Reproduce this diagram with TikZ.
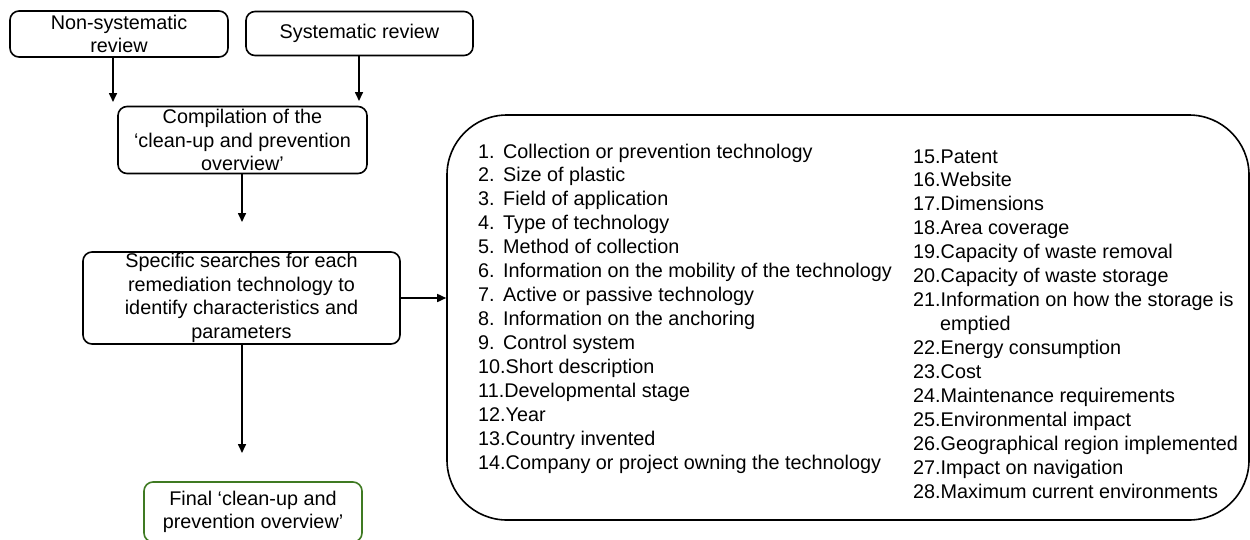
\documentclass[tikz,border=0pt]{standalone}
\usepackage{fontspec}
\setmainfont{Liberation Sans}
\usetikzlibrary{arrows.meta}
\definecolor{finalgreen}{HTML}{3F7A22}
\begin{document}
\begin{tikzpicture}[x=1pt,y=-1pt,
  every node/.style={font=\fontsize{19.8}{23.5}\selectfont},
  box/.style={draw, line width=1.6pt, rounded corners=9pt, align=center,
    inner xsep=2pt, inner ysep=0pt},
  arr/.style={line width=1.6pt, -{Triangle[length=9pt,width=8pt]}},
  item/.style={anchor=base west, inner sep=0pt,
    font=\fontsize{19.8}{23.95}\selectfont}]
\clip (0,0) rectangle (1250,539);

% flow boxes
\node[box, minimum width=218pt, minimum height=46pt] (nonsys) at (119,34)
  {Non-systematic\\review};
\node[box, minimum width=227pt, minimum height=44pt] (sys) at (359.5,33.5)
  {Systematic review};
\node[box, minimum width=249pt, minimum height=67pt] (comp) at (242.5,140)
  {Compilation of the\\‘clean-up and prevention\\overview’};
\node[box, minimum width=317pt, minimum height=92pt] (spec) at (241.5,298)
  {Specific searches for each\\remediation technology to\\identify characteristics and\\parameters};
\node[box, draw=finalgreen, minimum width=218pt, minimum height=60pt] (final) at (253,512)
  {Final ‘clean-up and\\prevention overview’};

% parameter list frame
\node[draw, line width=1.6pt, rounded corners=60pt, minimum width=802pt,
  minimum height=405pt, inner sep=0pt] (list) at (848,317.5) {};

% connectors
\coordinate (n1) at (113,102);
\coordinate (s1) at (359,101);
\coordinate (c1) at (242,222);
\coordinate (p1) at (242,453);
\draw[arr] (nonsys.south -| n1) -- (n1);
\draw[arr] (sys.south -| s1) -- (s1);
\draw[arr] (comp.south -| c1) -- (c1);
\draw[arr] (spec.south -| p1) -- (p1);
\draw[arr] (spec.east) -- (spec.east -| list.west);

% first column of parameters
\foreach \t [count=\i] in {Collection or prevention technology, Size of plastic,
  Field of application, Type of technology, Method of collection,
  Information on the mobility of the technology, Active or passive technology,
  Information on the anchoring, Control system, Short description,
  Developmental stage, Year, Country invented,
  Company or project owning the technology}
  \node[item] (p\i) at (478,{158+23.95*(\i-1)})
    {\ifnum\i<10 \makebox[25pt][l]{\i.}\else\i.\fi\t};

% second column of parameters
\foreach \t [count=\i from 15] in {Patent, Website, Dimensions, Area coverage,
  Capacity of waste removal, Capacity of waste storage,
  Information on how the storage is}
  \node[item] (p\i) at (913,{163+23.95*(\i-15)}) {\i.\t};
\node[item] (p21b) at (940,{163+23.95*7}) {emptied};
\foreach \t [count=\i from 22] in {Energy consumption, Cost,
  Maintenance requirements, Environmental impact,
  Geographical region implemented, Impact on navigation,
  Maximum current environments}
  \node[item] (p\i) at (913,{163+23.95*(\i-14)}) {\i.\t};
\end{tikzpicture}
\end{document}
